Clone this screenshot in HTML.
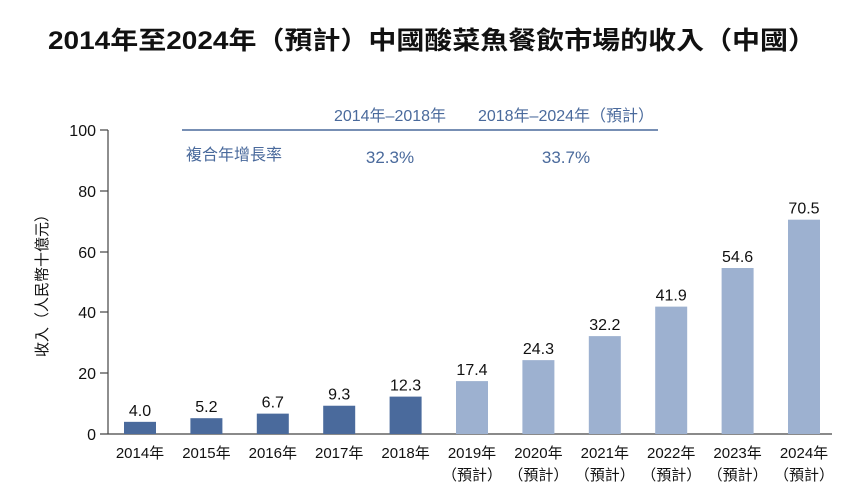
<!DOCTYPE html>
<html><head><meta charset="utf-8"><style>
body{margin:0;background:#fff}
text{font-family:"Liberation Sans","Noto Sans CJK TC",sans-serif}
</style></head><body>
<svg width="850" height="498" xmlns="http://www.w3.org/2000/svg">
<text x="48" y="49" font-size="25" font-weight="bold" fill="#111" textLength="768" lengthAdjust="spacingAndGlyphs">2014年至2024年（預計）中國酸菜魚餐飲市場的收入（中國）</text>
<g fill="#4a6a9c" font-size="16">
<text x="390" y="121" text-anchor="middle">2014年–2018年</text>
<text x="566" y="121" text-anchor="middle">2018年–2024年（預計）</text>
<line x1="182" y1="130" x2="658" y2="130" stroke="#4a6a9c" stroke-width="1.5"/>
<text x="186" y="160">複合年增長率</text>
<text x="390" y="163" text-anchor="middle" font-size="17">32.3%</text>
<text x="566" y="163" text-anchor="middle" font-size="17">33.7%</text>
</g>
<g stroke="#444" stroke-width="1.2">
<line x1="108" y1="130" x2="108" y2="434"/>
<line x1="100" y1="434" x2="832" y2="434"/>
<line x1="100" y1="130" x2="108" y2="130"/>
<line x1="100" y1="191" x2="108" y2="191"/>
<line x1="100" y1="252" x2="108" y2="252"/>
<line x1="100" y1="312" x2="108" y2="312"/>
<line x1="100" y1="373" x2="108" y2="373"/>
</g>
<g font-size="16" fill="#111" text-anchor="end">
<text x="96" y="136">100</text><text x="96" y="197">80</text><text x="96" y="258">60</text>
<text x="96" y="318">40</text><text x="96" y="379">20</text><text x="96" y="440">0</text>
</g>
<text transform="translate(47,282) rotate(-90)" text-anchor="middle" font-size="15" fill="#111">收入（人民幣十億元）</text>
<g id="bars" font-size="15" fill="#111" text-anchor="middle"></g>
</svg>
<script>
var v=[4.0,5.2,6.7,9.3,12.3,17.4,24.3,32.2,41.9,54.6,70.5],g=document.getElementById('bars'),s='';
for(var i=0;i<11;i++){var c=140+i*66.4,h=v[i]*3.04,y=434-h;
s+='<rect x="'+(c-16)+'" y="'+y+'" width="32" height="'+h+'" fill="'+(i<5?'#4a6a9c':'#9db1d0')+'"/>';
s+='<text x="'+c+'" y="'+(y-6)+'" font-size="16">'+v[i].toFixed(1)+'</text>';
s+='<text x="'+c+'" y="458">'+(2014+i)+'年</text>';
if(i>=5)s+='<text x="'+c+'" y="480">（預計）</text>';}
g.innerHTML=s;
</script>
</body></html>
